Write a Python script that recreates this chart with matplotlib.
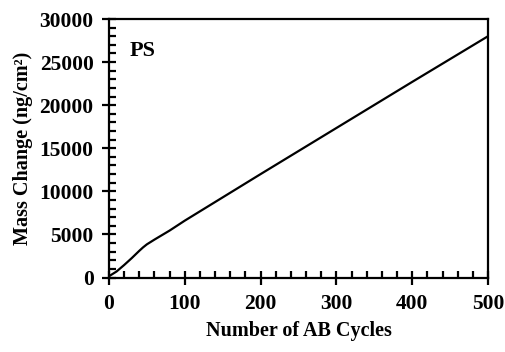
import matplotlib
matplotlib.use("Agg")
import matplotlib.pyplot as plt
from matplotlib.ticker import MultipleLocator

# Mass uptake vs. deposition cycles (PS film)
cycles = [0, 10, 20, 30, 40, 45, 50, 60, 80, 100, 200, 300, 400, 500]
mass_change = [150, 700, 1450, 2250, 3100, 3500, 3850, 4400, 5450, 6600,
               12000, 17350, 22700, 28000]

plt.rcParams['font.family'] = ['Liberation Serif', 'DejaVu Serif']
plt.rcParams['font.weight'] = 'bold'

fig = plt.figure(figsize=(5.05, 3.52), dpi=100)
ax = fig.add_axes([0.2158, 0.2116, 0.7505, 0.7344])

ax.plot(cycles, mass_change, color='black', linewidth=1.6)

ax.set_xlim(0, 500)
ax.set_ylim(0, 30000)
ax.xaxis.set_major_locator(MultipleLocator(100))
ax.xaxis.set_minor_locator(MultipleLocator(20))
ax.yaxis.set_major_locator(MultipleLocator(5000))
ax.yaxis.set_minor_locator(MultipleLocator(1000))

for side in ax.spines.values():
    side.set_linewidth(1.6)

ax.tick_params(which='major', direction='inout', length=10, width=1.6,
               labelsize=15.5, pad=7)
ax.tick_params(which='minor', direction='in', length=5, width=1.6)
ax.tick_params(axis='y', which='major', pad=6)
for lbl in ax.get_xticklabels() + ax.get_yticklabels():
    lbl.set_fontweight('bold')

ax.set_xlabel('Number of AB Cycles', fontsize=14.5, fontweight='bold', labelpad=5)
ax.set_ylabel('Mass Change (ng/cm²)', fontsize=14.5, fontweight='bold',
              labelpad=5)

ax.text(0.055, 0.875, 'PS', transform=ax.transAxes, fontsize=16,
        fontweight='bold', ha='left', va='center')

fig.savefig('out.png', dpi=100)
